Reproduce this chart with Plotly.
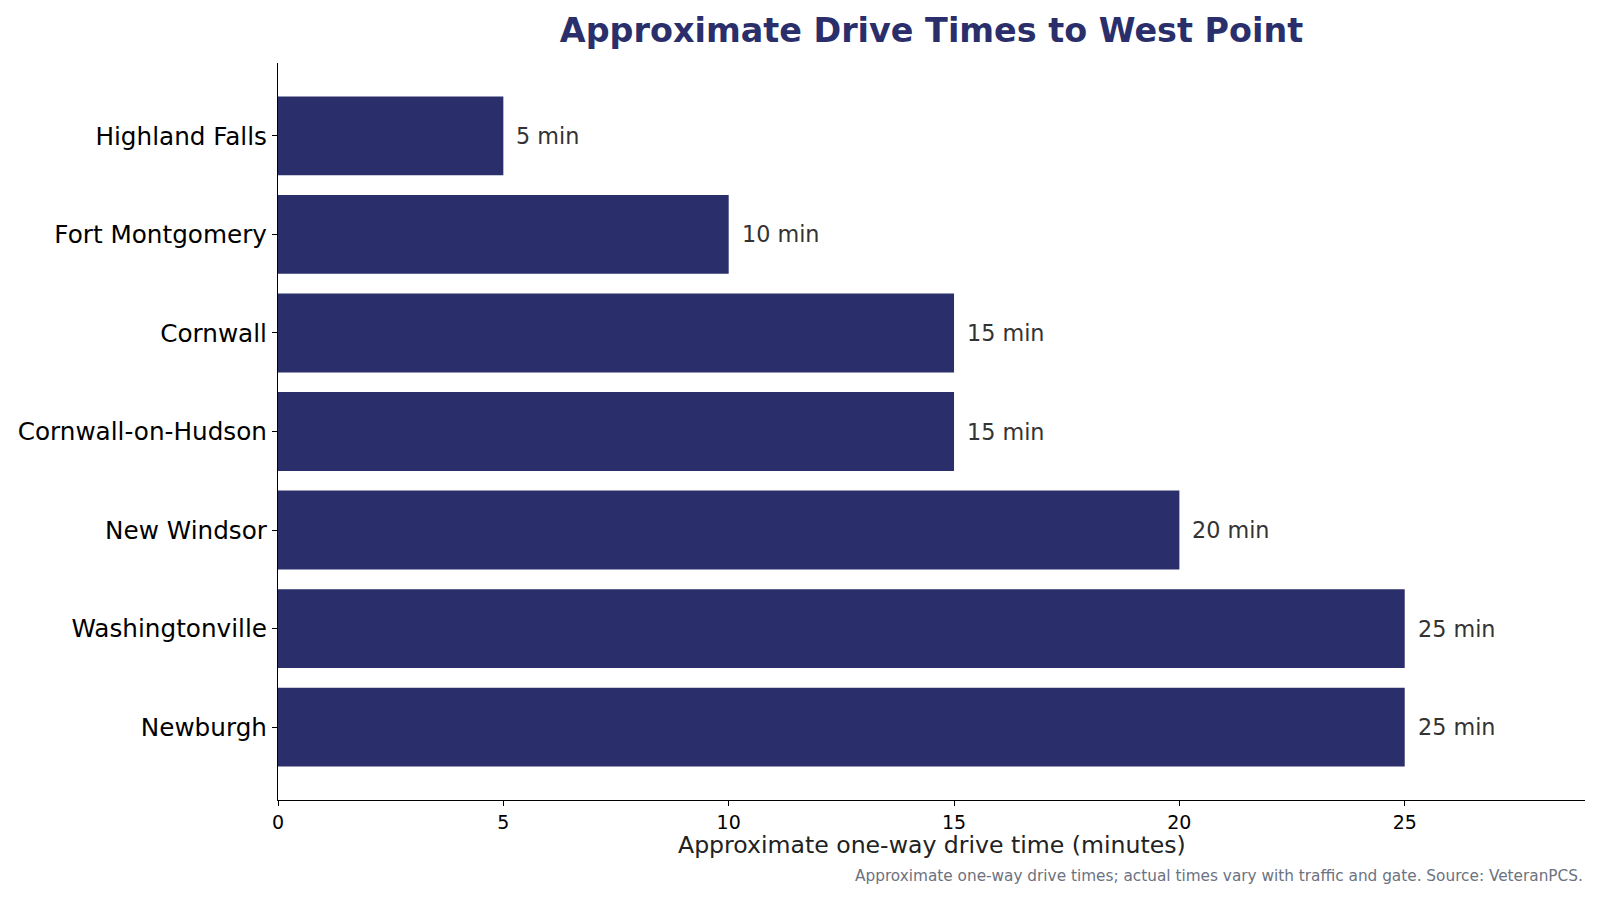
import plotly.graph_objects as go

towns = ["Highland Falls", "Fort Montgomery", "Cornwall", "Cornwall-on-Hudson",
         "New Windsor", "Washingtonville", "Newburgh"]
minutes = [5, 10, 15, 15, 20, 25, 25]
value_labels = [f"{m} min" for m in minutes]
x_ticks = [0, 5, 10, 15, 20, 25]

title_text = "Approximate Drive Times to West Point"
x_title = "Approximate one-way drive time (minutes)"
footnote = "Approximate one-way drive times; actual times vary with traffic and gate. Source: VeteranPCS."

NAVY = "#2a2f6b"
FONT = "DejaVu Sans"

fig = go.Figure()
fig.add_trace(go.Bar(
    x=minutes, y=towns, orientation="h", width=0.8,
    marker=dict(color=NAVY, line=dict(width=0)),
    hoverinfo="skip",
))

annotations = []
for t, m, lab in zip(towns, minutes, value_labels):
    annotations.append(dict(
        x=m, y=t, xref="x", yref="y", text=lab, showarrow=False,
        xanchor="left", yanchor="middle", xshift=11,
        font=dict(family=FONT, size=22.3, color="#333333"),
    ))
annotations.append(dict(
    x=0.5, y=-0.061, xref="paper", yref="paper", text=x_title, showarrow=False,
    xanchor="center", yanchor="middle",
    font=dict(family=FONT, size=23.6, color="#222222"),
))
annotations.append(dict(
    x=1.0, y=-0.103, xref="paper", yref="paper", text=footnote, showarrow=False,
    xanchor="right", yanchor="middle",
    font=dict(family=FONT, size=15.3, color="#6b7280"),
))

fig.update_layout(
    width=1600, height=900,
    margin=dict(l=278, r=15, t=63, b=100, pad=0),
    paper_bgcolor="white", plot_bgcolor="white",
    showlegend=False,
    font=dict(family=FONT, color="black"),
    title=dict(text=f"<b>{title_text}</b>", x=0.5, xref="paper", xanchor="center",
               y=1 - 30 / 900, yref="container", yanchor="middle",
               font=dict(family=FONT, size=33.4, color=NAVY)),
    annotations=annotations,
    xaxis=dict(
        range=[0, 29], tickmode="array", tickvals=x_ticks,
        ticktext=[str(v) for v in x_ticks],
        showgrid=False, zeroline=False, showline=True, linecolor="black", linewidth=1.2,
        ticks="outside", ticklen=5, tickwidth=1.1, tickcolor="black",
        tickfont=dict(family=FONT, size=19, color="black"),
    ),
    yaxis=dict(
        type="category", categoryorder="array", categoryarray=towns[::-1],
        range=[-0.74, 6.74],
        showgrid=False, zeroline=False, showline=True, linecolor="black", linewidth=1.2,
        ticks="outside", ticklen=5, tickwidth=1.1, tickcolor="black",
        tickfont=dict(family=FONT, size=24.7, color="black"),
    ),
)

fig.write_html("out.html")
